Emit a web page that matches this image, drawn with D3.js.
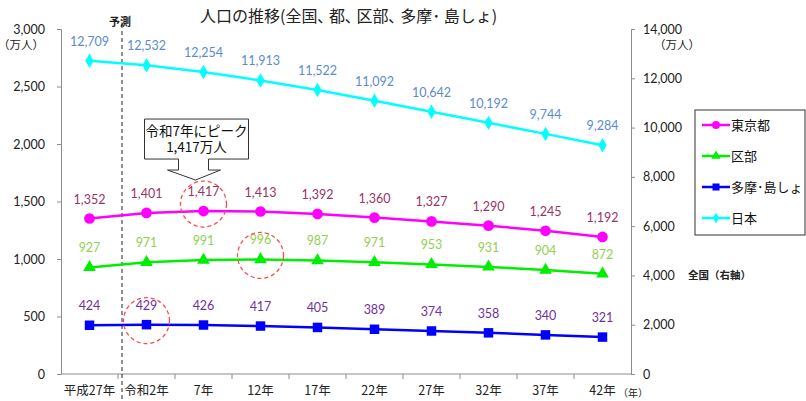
<!DOCTYPE html>
<html>
<head>
<meta charset="utf-8">
<script src="https://cdn.jsdelivr.net/npm/d3@7"></script>
<style>
  body { margin: 0; background: #fff; overflow: hidden; }
  svg { display: block; }
  text { font-family: "Lato", "Noto Sans CJK JP", sans-serif; }
  .jp { font-family: "Noto Sans CJK JP", sans-serif; }
</style>
</head>
<body>
<svg></svg>
<script>
// categories (x axis)
const years = ["平成27年", "令和2年", "7年", "12年", "17年", "22年", "27年", "32年", "37年", "42年"]

// series values (万人)
const tokyo = [1352, 1401, 1417, 1413, 1392, 1360, 1327, 1290, 1245, 1192]
const kubu = [927, 971, 991, 996, 987, 971, 953, 931, 904, 872]
const tama = [424, 429, 426, 417, 405, 389, 374, 358, 340, 321]
const japan = [12709, 12532, 12254, 11913, 11522, 11092, 10642, 10192, 9744, 9284]

// tick values
const leftTicks = [0, 500, 1000, 1500, 2000, 2500, 3000]
const rightTicks = [0, 2000, 4000, 6000, 8000, 10000, 12000, 14000]

const width = 806
const height = 401

const margin = { top: 29, right: 175, bottom: 27, left: 61 }
const innerWidth = width - margin.left - margin.right
const innerHeight = height - margin.top - margin.bottom

const svg = d3.select('svg')
    .attr('width', width)
    .attr('height', height)

const xScale = d3.scaleBand()
    .domain(years)
    .range([0, innerWidth])

const yLeft = d3.scaleLinear().domain([0, 3000]).range([innerHeight, 0])
const yRight = d3.scaleLinear().domain([0, 14000]).range([innerHeight, 0])

const cx = d => xScale(d) + xScale.bandwidth() / 2

const g = svg.append('g')
    .attr('transform', `translate(${margin.left}, ${margin.top})`)

// title
svg.append('text')
    .attr('class', 'jp')
    .attr('x', 200).attr('y', 22)
    .attr('font-size', 16)
    .attr('fill', '#222')
    .text('人口の推移(全国､ 都､ 区部､ 多摩･ 島しょ)')

// axes
const fmt = d3.format(',')

const yAxisLeft = d3.axisLeft(yLeft).tickValues(leftTicks).tickFormat(fmt).tickSize(4).tickPadding(12)
const yAxisRight = d3.axisRight(yRight).tickValues(rightTicks).tickFormat(fmt).tickSize(4).tickPadding(8)
const xAxis = d3.axisBottom(xScale).tickSize(0).tickPadding(12)

const styleAxis = sel => {
    sel.selectAll('path, line').attr('stroke', '#8c8c8c')
    sel.selectAll('text').attr('font-size', 12.5).attr('fill', '#222')
}

g.append('g').call(yAxisLeft).call(styleAxis)
g.append('g').attr('transform', `translate(${innerWidth},0)`).call(yAxisRight).call(styleAxis)

const xAxisG = g.append('g')
    .attr('transform', `translate(0,${innerHeight})`)
    .call(xAxis)
    .call(styleAxis)
xAxisG.select('.domain').attr('d', `M0,0H${innerWidth}`)
xAxisG.selectAll('text').attr('class', 'jp').attr('font-size', 12.5)

// tick marks between categories
g.selectAll('.xtick')
    .data(years.slice(1))
    .enter()
    .append('line')
    .attr('x1', d => xScale(d)).attr('x2', d => xScale(d))
    .attr('y1', innerHeight).attr('y2', innerHeight + 5)
    .attr('stroke', '#8c8c8c')

// unit labels
svg.append('text').attr('class', 'jp').attr('x', 44).attr('y', 49).attr('text-anchor', 'end')
    .attr('font-size', 11.5).attr('fill', '#222').text('（万人）')
svg.append('text').attr('class', 'jp').attr('x', 654).attr('y', 49)
    .attr('font-size', 11.5).attr('fill', '#222').text('（万人）')
svg.append('text').attr('class', 'jp').attr('x', 618).attr('y', 397)
    .attr('font-size', 10).attr('fill', '#222').text('（年）')
svg.append('text').attr('class', 'jp').attr('x', 688).attr('y', 279)
    .attr('font-size', 10.5).attr('font-weight', 'bold').attr('fill', '#222').text('全国（右軸）')

// forecast divider
const divX = xScale(years[1]) + 4
g.append('line')
    .attr('x1', divX).attr('x2', divX)
    .attr('y1', -5).attr('y2', height - margin.top)
    .attr('stroke', '#222').attr('stroke-width', 1).attr('stroke-dasharray', '4,3')
svg.append('text').attr('class', 'jp')
    .attr('x', margin.left + divX - 2).attr('y', 26).attr('text-anchor', 'middle')
    .attr('font-size', 11).attr('font-weight', 'bold').attr('fill', '#222').text('予測')

// series
const series = [
    { name: '東京都', values: tokyo, scale: yLeft, color: '#ff00ff', labelColor: '#993366', symbol: d3.symbolCircle, size: 90 },
    { name: '区部', values: kubu, scale: yLeft, color: '#00ee00', labelColor: '#92d050', symbol: d3.symbolTriangle, size: 70 },
    { name: '多摩･島しょ', values: tama, scale: yLeft, color: '#0000ff', labelColor: '#7030a0', symbol: d3.symbolSquare, size: 90 },
    { name: '日本', values: japan, scale: yRight, color: '#00ffff', labelColor: '#5b8bd0', symbol: d3.symbolDiamond, size: 60 }
]

series.forEach(s => {
    const line = d3.line()
        .x((d, i) => cx(years[i]))
        .y(d => s.scale(d))

    g.append('path')
        .datum(s.values)
        .attr('fill', 'none')
        .attr('stroke', s.color)
        .attr('stroke-width', 2.5)
        .attr('d', line)

    g.selectAll(null)
        .data(s.values)
        .enter()
        .append('path')
        .attr('d', d3.symbol().type(s.symbol).size(s.size))
        .attr('transform', (d, i) => `translate(${cx(years[i])},${s.scale(d)})`)
        .attr('fill', s.color)

    g.selectAll(null)
        .data(s.values)
        .enter()
        .append('text')
        .attr('x', (d, i) => cx(years[i]))
        .attr('y', d => s.scale(d) - 15)
        .attr('text-anchor', 'middle')
        .attr('font-size', 12.5)
        .attr('fill', s.labelColor)
        .text(d => fmt(d))
})

// dashed highlight circles
const highlights = [
    { year: '7年', value: 1417, dy: -7 },
    { year: '12年', value: 996, dy: -4 },
    { year: '令和2年', value: 429, dy: -4 }
]
g.selectAll(null)
    .data(highlights)
    .enter()
    .append('circle')
    .attr('cx', d => cx(d.year))
    .attr('cy', d => yLeft(d.value) + d.dy)
    .attr('r', 23)
    .attr('fill', 'none')
    .attr('stroke', '#ff4a4a')
    .attr('stroke-width', 1.3)
    .attr('stroke-dasharray', '4,3')

// callout
const tipX = cx('7年') - 8
const tipY = yLeft(1417) - 31
const callout = [
    [-51, -9], [53, -9], [53, 31], [13, 31], [13, 42],
    [25, 42], [0, 52], [-28, 42], [-17, 42], [-17, 31], [-51, 31]
]
g.append('path')
    .attr('d', 'M' + callout.map(p => [tipX + p[0], tipY - 52 + p[1]].join(',')).join('L') + 'Z')
    .attr('fill', '#fff')
    .attr('stroke', '#333')
    .attr('stroke-width', 1)
g.append('text').attr('class', 'jp')
    .attr('x', tipX + 1).attr('y', tipY - 52 + 8)
    .attr('text-anchor', 'middle').attr('font-size', 13.5).attr('fill', '#111')
    .text('令和7年にピーク')
g.append('text').attr('class', 'jp')
    .attr('x', tipX + 1).attr('y', tipY - 52 + 24)
    .attr('text-anchor', 'middle').attr('font-size', 13.5).attr('fill', '#111')
    .text('1,417万人')

// legend
const legend = svg.append('g').attr('transform', 'translate(695,110)')
legend.append('rect')
    .attr('width', 110).attr('height', 125)
    .attr('fill', '#fff').attr('stroke', '#333').attr('stroke-width', 1)

const legendItem = legend.selectAll('.item')
    .data(series)
    .enter()
    .append('g')
    .attr('transform', (d, i) => `translate(0,${15 + i * 31})`)

legendItem.append('line')
    .attr('x1', 7).attr('x2', 35)
    .attr('stroke', d => d.color).attr('stroke-width', 2.5)
legendItem.append('path')
    .attr('d', d => d3.symbol().type(d.symbol).size(d.size * 0.55)())
    .attr('transform', 'translate(21,0)')
    .attr('fill', d => d.color)
legendItem.append('text')
    .attr('class', 'jp')
    .attr('x', 36).attr('y', 5)
    .attr('font-size', 13).attr('fill', '#111')
    .text(d => d.name)
</script>
</body>
</html>
